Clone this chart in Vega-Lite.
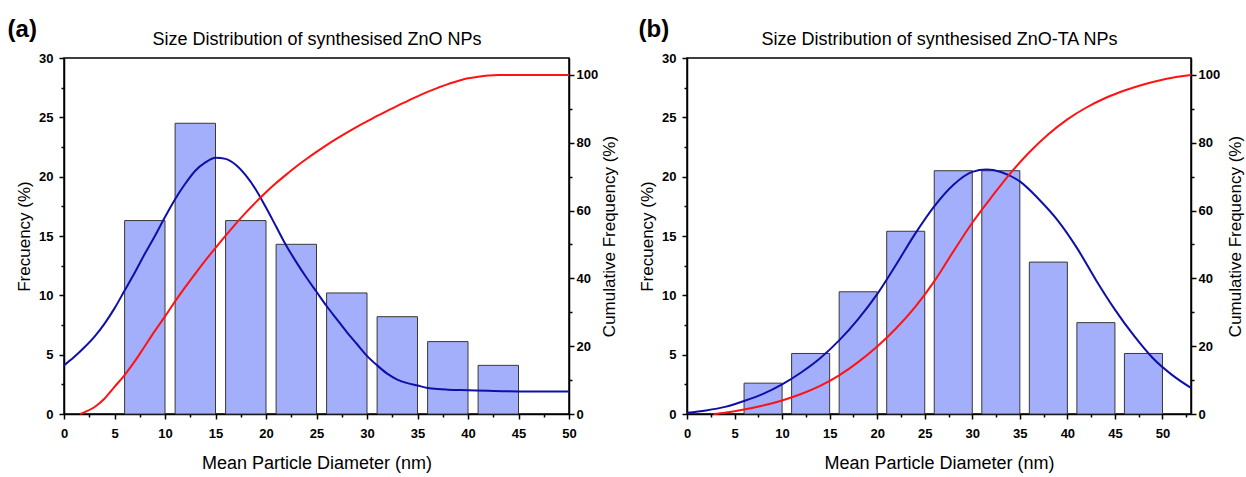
{
  "$schema": "https://vega.github.io/schema/vega-lite/v6.json",
  "background": "white",
  "padding": {"left": 6, "top": 17, "right": 0, "bottom": 0},
  "spacing": 18,
  "datasets": {
    "barsA": [
      {"x0": 6, "x1": 10, "freq": 16.3},
      {"x0": 11, "x1": 15, "freq": 24.5},
      {"x0": 16, "x1": 20, "freq": 16.3},
      {"x0": 21, "x1": 25, "freq": 14.3},
      {"x0": 26, "x1": 30, "freq": 10.2},
      {"x0": 31, "x1": 35, "freq": 8.2},
      {"x0": 36, "x1": 40, "freq": 6.1},
      {"x0": 41, "x1": 45, "freq": 4.1}
    ],
    "fitA": [
      {"d": 0, "f": 4.1}, {"d": 1, "f": 4.8}, {"d": 2, "f": 5.6}, {"d": 3, "f": 6.5},
      {"d": 4, "f": 7.6}, {"d": 5, "f": 8.9}, {"d": 6, "f": 10.4}, {"d": 7, "f": 11.9},
      {"d": 8, "f": 13.5}, {"d": 9, "f": 15.0}, {"d": 10, "f": 16.6}, {"d": 11, "f": 18.1},
      {"d": 12, "f": 19.4}, {"d": 13, "f": 20.5}, {"d": 14, "f": 21.2}, {"d": 15, "f": 21.6},
      {"d": 16, "f": 21.5}, {"d": 17, "f": 21.0}, {"d": 18, "f": 20.1}, {"d": 19, "f": 18.9},
      {"d": 20, "f": 17.4}, {"d": 21, "f": 15.8}, {"d": 22, "f": 14.2}, {"d": 23, "f": 12.8},
      {"d": 24, "f": 11.5}, {"d": 25, "f": 10.3}, {"d": 26, "f": 9.1}, {"d": 27, "f": 8.0},
      {"d": 28, "f": 6.9}, {"d": 29, "f": 5.9}, {"d": 30, "f": 4.9}, {"d": 31, "f": 4.1},
      {"d": 32, "f": 3.4}, {"d": 33, "f": 2.9}, {"d": 34, "f": 2.6}, {"d": 35, "f": 2.4},
      {"d": 36, "f": 2.2}, {"d": 37, "f": 2.1}, {"d": 38, "f": 2.05}, {"d": 40, "f": 2.0},
      {"d": 42, "f": 1.95}, {"d": 45, "f": 1.9}, {"d": 50, "f": 1.9}
    ],
    "cumA": [
      {"d": 1.6, "c": 0}, {"d": 2, "c": 0.5}, {"d": 3, "c": 2.0}, {"d": 4, "c": 4.5},
      {"d": 5, "c": 8.0}, {"d": 6, "c": 11.5}, {"d": 7, "c": 15.5}, {"d": 8, "c": 20.0},
      {"d": 9, "c": 24.5}, {"d": 10, "c": 28.8}, {"d": 11, "c": 33.2}, {"d": 12, "c": 37.4},
      {"d": 13, "c": 41.4}, {"d": 14, "c": 45.3}, {"d": 15, "c": 49.0}, {"d": 16, "c": 52.6},
      {"d": 17, "c": 56.1}, {"d": 18, "c": 59.4}, {"d": 19, "c": 62.5}, {"d": 20, "c": 65.4},
      {"d": 21, "c": 68.1}, {"d": 22, "c": 70.6}, {"d": 23, "c": 73.0}, {"d": 24, "c": 75.2},
      {"d": 25, "c": 77.3}, {"d": 26, "c": 79.3}, {"d": 27, "c": 81.2}, {"d": 28, "c": 83.0},
      {"d": 29, "c": 84.7}, {"d": 30, "c": 86.3}, {"d": 31, "c": 87.9}, {"d": 32, "c": 89.4},
      {"d": 33, "c": 90.9}, {"d": 34, "c": 92.3}, {"d": 35, "c": 93.7}, {"d": 36, "c": 95.0},
      {"d": 37, "c": 96.2}, {"d": 38, "c": 97.3}, {"d": 39, "c": 98.2}, {"d": 40, "c": 99.0},
      {"d": 41, "c": 99.5}, {"d": 42, "c": 99.85}, {"d": 43, "c": 100}, {"d": 50, "c": 100}
    ],
    "barsB": [
      {"x0": 6, "x1": 10, "freq": 2.6},
      {"x0": 11, "x1": 15, "freq": 5.1},
      {"x0": 16, "x1": 20, "freq": 10.3},
      {"x0": 21, "x1": 25, "freq": 15.4},
      {"x0": 26, "x1": 30, "freq": 20.5},
      {"x0": 31, "x1": 35, "freq": 20.5},
      {"x0": 36, "x1": 40, "freq": 12.8},
      {"x0": 41, "x1": 45, "freq": 7.7},
      {"x0": 46, "x1": 50, "freq": 5.1}
    ],
    "fitB": [
      {"d": 0, "f": 0.1}, {"d": 2, "f": 0.3}, {"d": 4, "f": 0.6}, {"d": 6, "f": 1.1},
      {"d": 8, "f": 1.7}, {"d": 10, "f": 2.5}, {"d": 12, "f": 3.5}, {"d": 14, "f": 4.7},
      {"d": 16, "f": 6.2}, {"d": 18, "f": 8.0}, {"d": 20, "f": 10.1}, {"d": 22, "f": 12.6},
      {"d": 24, "f": 15.2}, {"d": 26, "f": 17.5}, {"d": 28, "f": 19.3}, {"d": 30, "f": 20.4},
      {"d": 31.5, "f": 20.6}, {"d": 33, "f": 20.4}, {"d": 35, "f": 19.6}, {"d": 37, "f": 18.1},
      {"d": 39, "f": 16.3}, {"d": 41, "f": 14.0}, {"d": 43, "f": 11.3}, {"d": 45, "f": 8.8},
      {"d": 47, "f": 6.6}, {"d": 49, "f": 4.7}, {"d": 51, "f": 3.3}, {"d": 53, "f": 2.2}
    ],
    "cumB": [
      {"d": 2.8, "c": 0}, {"d": 4, "c": 0.4}, {"d": 6, "c": 1.3}, {"d": 8, "c": 2.5},
      {"d": 10, "c": 4.0}, {"d": 12, "c": 5.9}, {"d": 14, "c": 8.3}, {"d": 16, "c": 11.4},
      {"d": 18, "c": 15.3}, {"d": 20, "c": 19.9}, {"d": 22, "c": 25.3}, {"d": 24, "c": 31.6},
      {"d": 26, "c": 39.1}, {"d": 28, "c": 47.9}, {"d": 30, "c": 56.4}, {"d": 32, "c": 63.9},
      {"d": 34, "c": 71.0}, {"d": 36, "c": 77.2}, {"d": 38, "c": 82.5}, {"d": 40, "c": 86.9},
      {"d": 42, "c": 90.4}, {"d": 44, "c": 93.2}, {"d": 46, "c": 95.4}, {"d": 48, "c": 97.2},
      {"d": 50, "c": 98.6}, {"d": 52, "c": 99.6}, {"d": 53, "c": 100}
    ]
  },
  "hconcat": [
    {
      "title": {"text": "(a)", "anchor": "start", "frame": "bounds", "fontSize": 24, "fontWeight": "bold", "offset": -9, "dx": -8, "dy": 3},
      "width": 505,
      "height": 356,
      "resolve": {"scale": {"y": "independent"}, "axis": {"x": "independent"}},
      "layer": [
        {
          "data": {"name": "barsA"},
          "mark": {"type": "bar", "fill": "#a3affa", "stroke": "#383838", "strokeWidth": 1},
          "encoding": {
            "x": {"field": "x0", "type": "quantitative", "scale": {"domain": [0, 50], "nice": false, "padding": 0},
              "axis": {"orient": "bottom", "title": "Mean Particle Diameter (nm)",
                "values": [0, 2.5, 5, 7.5, 10, 12.5, 15, 17.5, 20, 22.5, 25, 27.5, 30, 32.5, 35, 37.5, 40, 42.5, 45, 47.5, 50],
                "labelExpr": "datum.value % 5 === 0 ? datum.label : ''",
                "tickSize": {"condition": {"test": "datum.value % 5 !== 0", "value": 3}, "value": 5},
                "labelPadding": 8, "titlePadding": 14, "titleFontSize": 18}},
            "x2": {"field": "x1"},
            "y": {"field": "freq", "type": "quantitative", "scale": {"domain": [0, 30], "nice": false, "padding": 0},
              "axis": {"orient": "left", "title": "Frecuency (%)",
                "values": [0, 2.5, 5, 7.5, 10, 12.5, 15, 17.5, 20, 22.5, 25, 27.5, 30],
                "labelExpr": "datum.value % 5 === 0 ? datum.label : ''",
                "tickSize": {"condition": {"test": "datum.value % 5 !== 0", "value": 3}, "value": 5},
                "labelPadding": 6, "titlePadding": 5}},
            "y2": {"datum": 0}
          }
        },
        {
          "data": {"name": "fitA"},
          "mark": {"type": "line", "color": "#0f0fa8", "strokeWidth": 2, "interpolate": "monotone"},
          "encoding": {
            "x": {"field": "d", "type": "quantitative", "axis": null},
            "y": {"field": "f", "type": "quantitative", "scale": {"domain": [0, 30], "nice": false, "padding": 0}, "axis": null}
          }
        },
        {
          "data": {"name": "cumA"},
          "mark": {"type": "line", "color": "#ff1212", "strokeWidth": 2, "interpolate": "monotone"},
          "encoding": {
            "x": {"field": "d", "type": "quantitative",
              "axis": {"orient": "top", "labels": false, "ticks": false, "domain": false,
                "title": "Size Distribution of synthesised ZnO NPs", "titlePadding": 10, "titleFontSize": 18}},
            "y": {"field": "c", "type": "quantitative", "scale": {"domain": [0, 105], "nice": false, "padding": 0},
              "axis": {"orient": "right", "title": "Cumulative Frequency (%)", "titleAngle": 270, "titleBaseline": "top",
                "values": [0, 10, 20, 30, 40, 50, 60, 70, 80, 90, 100],
                "labelExpr": "datum.value % 20 === 0 ? datum.label : ''",
                "tickSize": {"condition": {"test": "datum.value % 20 !== 0", "value": 3}, "value": 5},
                "labelPadding": 2, "titlePadding": 4}}
          }
        }
      ]
    },
    {
      "title": {"text": "(b)", "anchor": "start", "frame": "bounds", "fontSize": 24, "fontWeight": "bold", "offset": -9, "dx": 0, "dy": 3},
      "width": 504,
      "height": 356,
      "resolve": {"scale": {"y": "independent"}, "axis": {"x": "independent"}},
      "layer": [
        {
          "data": {"name": "barsB"},
          "mark": {"type": "bar", "fill": "#a3affa", "stroke": "#383838", "strokeWidth": 1},
          "encoding": {
            "x": {"field": "x0", "type": "quantitative", "scale": {"domain": [0, 53], "nice": false, "padding": 0},
              "axis": {"orient": "bottom", "title": "Mean Particle Diameter (nm)",
                "values": [0, 2.5, 5, 7.5, 10, 12.5, 15, 17.5, 20, 22.5, 25, 27.5, 30, 32.5, 35, 37.5, 40, 42.5, 45, 47.5, 50, 52.5],
                "labelExpr": "datum.value % 5 === 0 ? datum.label : ''",
                "tickSize": {"condition": {"test": "datum.value % 5 !== 0", "value": 3}, "value": 5},
                "labelPadding": 8, "titlePadding": 14, "titleFontSize": 18}},
            "x2": {"field": "x1"},
            "y": {"field": "freq", "type": "quantitative", "scale": {"domain": [0, 30], "nice": false, "padding": 0},
              "axis": {"orient": "left", "title": "Frecuency (%)",
                "values": [0, 2.5, 5, 7.5, 10, 12.5, 15, 17.5, 20, 22.5, 25, 27.5, 30],
                "labelExpr": "datum.value % 5 === 0 ? datum.label : ''",
                "tickSize": {"condition": {"test": "datum.value % 5 !== 0", "value": 3}, "value": 5},
                "labelPadding": 6, "titlePadding": 5}},
            "y2": {"datum": 0}
          }
        },
        {
          "data": {"name": "fitB"},
          "mark": {"type": "line", "color": "#0f0fa8", "strokeWidth": 2, "interpolate": "monotone"},
          "encoding": {
            "x": {"field": "d", "type": "quantitative", "axis": null},
            "y": {"field": "f", "type": "quantitative", "scale": {"domain": [0, 30], "nice": false, "padding": 0}, "axis": null}
          }
        },
        {
          "data": {"name": "cumB"},
          "mark": {"type": "line", "color": "#ff1212", "strokeWidth": 2, "interpolate": "monotone"},
          "encoding": {
            "x": {"field": "d", "type": "quantitative",
              "axis": {"orient": "top", "labels": false, "ticks": false, "domain": false,
                "title": "Size Distribution of synthesised ZnO-TA NPs", "titlePadding": 10, "titleFontSize": 18}},
            "y": {"field": "c", "type": "quantitative", "scale": {"domain": [0, 105], "nice": false, "padding": 0},
              "axis": {"orient": "right", "title": "Cumulative Frequency (%)", "titleAngle": 270, "titleBaseline": "top",
                "values": [0, 10, 20, 30, 40, 50, 60, 70, 80, 90, 100],
                "labelExpr": "datum.value % 20 === 0 ? datum.label : ''",
                "tickSize": {"condition": {"test": "datum.value % 20 !== 0", "value": 3}, "value": 5},
                "labelPadding": 2, "titlePadding": 8}}
          }
        }
      ]
    }
  ],
  "config": {
    "font": "Liberation Sans",
    "view": {"stroke": "black", "strokeWidth": 1.5},
    "axis": {
      "domainColor": "black", "domainWidth": 1.5, "tickColor": "black", "tickWidth": 1.5,
      "labelColor": "black", "labelFontSize": 13, "labelFontWeight": "bold",
      "titleColor": "black", "titleFontSize": 17, "titleFontWeight": "normal",
      "grid": false, "labelFlush": false, "labelOverlap": false
    },
    "title": {"color": "black"}
  }
}
